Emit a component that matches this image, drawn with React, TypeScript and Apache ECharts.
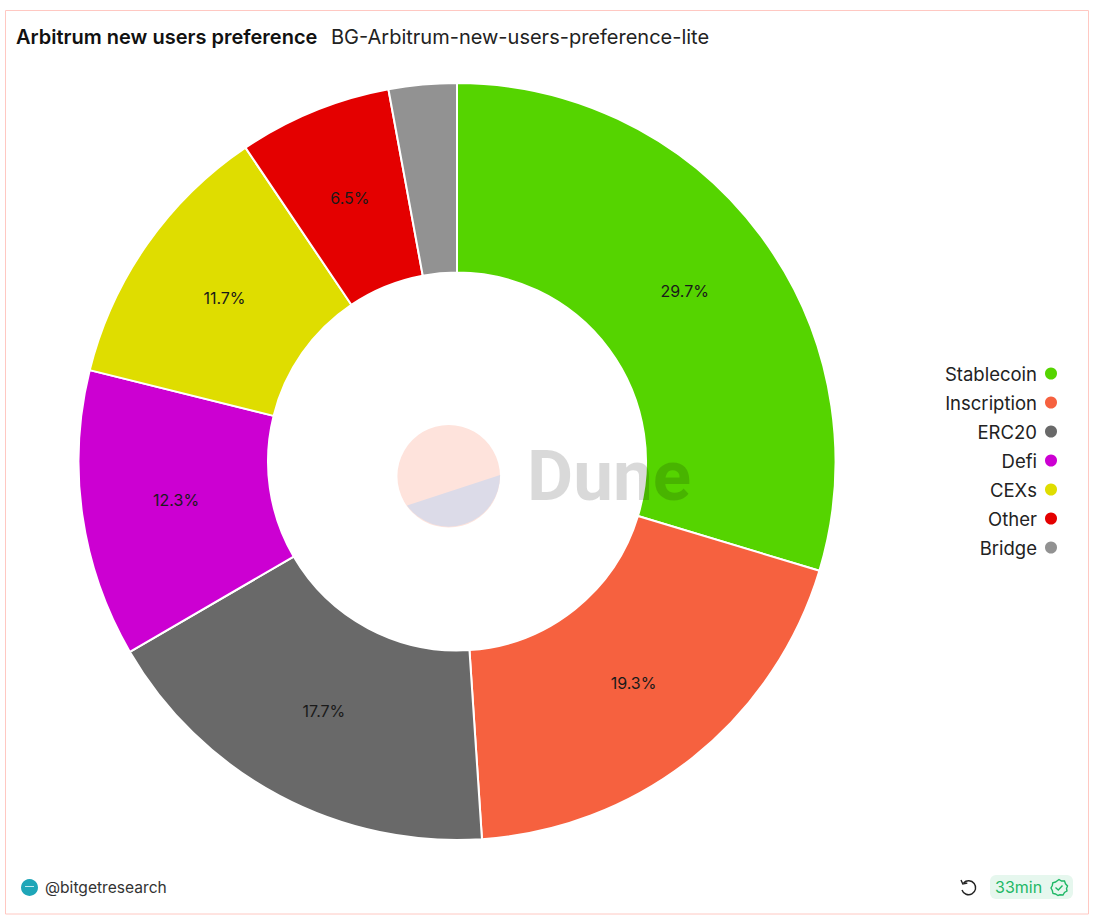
import React, { useEffect, useRef } from "react";
import * as echarts from "echarts";

const categories = ["Stablecoin", "Inscription", "ERC20", "Defi", "CEXs", "Other", "Bridge"];
const shares = [29.66, 19.29, 17.66, 12.27, 11.68, 6.54, 2.9];
const colors = ["#55d400", "#f6613f", "#696969", "#cc00d2", "#dfdd00", "#e40000", "#929292"];
const hiddenLabels = ["Bridge"];
const chartTitle = "Arbitrum new users preference";
const queryName = "BG-Arbitrum-new-users-preference-lite";
const author = "@bitgetresearch";
const freshness = "33min";

const FONT = "Inter, 'Noto Sans', sans-serif";
const CX = 457;
const CY = 461.5;

echarts.graphic.registerShape("duneChord", echarts.graphic.extendPath("M500.1 475 A51.5 51.5 0 0 1 407 505.5 Z", {}));
echarts.graphic.registerShape("refreshIcon", echarts.graphic.extendPath("M963.5 883 A7 7 0 1 1 962 890 M961 880 L962.8 884 L967.3 883", {}));
echarts.graphic.registerShape("badgeIcon", echarts.graphic.extendPath("M1059 879.5 L1061.5 881 L1064.5 881 L1065.5 883.8 L1067.5 886 L1066.5 888.5 L1067 891 L1064.5 892.5 L1063 895 L1060 894.8 L1058 895.5 L1055.5 894 L1053 893.5 L1052.3 890.5 L1051 888 L1052.3 885.5 L1052.8 882.8 L1055.5 882 Z M1055.5 887.5 L1058.3 890 L1062.5 885.5", {}));

export default function App() {
  const ref = useRef<HTMLDivElement>(null);
  useEffect(() => {
    const chart = echarts.init(ref.current!, null, { renderer: "svg" });
    chart.setOption({
      animation: false,
      backgroundColor: "#ffffff",
      color: colors,
      title: [
        { text: chartTitle, left: 11, top: 22, textStyle: { fontFamily: FONT, fontSize: 20, fontWeight: 600, color: "#111111" } },
        { text: queryName, left: 326, top: 22, textStyle: { fontFamily: FONT, fontSize: 20, fontWeight: 400, color: "#222222" } },
      ],
      legend: {
        orient: "vertical",
        right: 32,
        top: 359,
        align: "right",
        icon: "circle",
        itemWidth: 14,
        itemHeight: 14,
        itemGap: 10,
        data: categories,
        textStyle: { fontFamily: FONT, fontSize: 18.5, color: "#222222", padding: [0, 2, 0, 0] },
      },
      series: [
        {
          type: "pie",
          center: [CX, CY],
          radius: [189, 378.5],
          startAngle: 90,
          clockwise: true,
          silent: true,
          itemStyle: { borderColor: "#ffffff", borderWidth: 2 },
          label: {
            show: true,
            position: "inside",
            fontFamily: FONT,
            fontSize: 16,
            color: "#1a1a1a",
            formatter: (p: any) => `${p.value.toFixed(1)}%`,
          },
          labelLayout: (p: any) => {
            const x = p.rect.x + p.rect.width / 2 - CX;
            const y = p.rect.y + p.rect.height / 2 - CY;
            const d = Math.hypot(x, y) || 1;
            return { dx: (-3 * x) / d, dy: (-3 * y) / d - 1 };
          },
          labelLine: { show: false },
          data: categories.map((name, i) => ({
            name,
            value: shares[i],
            label: { show: !hiddenLabels.includes(name) },
          })),
        },
      ],
      graphic: [
        { type: "rect", z: 1, silent: true, shape: { x: 5.5, y: 10.5, width: 1083, height: 903.5 }, style: { fill: "none", stroke: "#ffc8c2", lineWidth: 1 } },
        { type: "circle", z: 100, silent: true, shape: { cx: 448.7, cy: 476.3, r: 51.3 }, style: { fill: "#fee3dc" } },
        { type: "duneChord", z: 101, silent: true, style: { fill: "#dcdbe8" } },
        { type: "text", z: 102, silent: true, x: 527, y: 440, style: { text: "Dune", fontFamily: "Roboto, sans-serif", fontWeight: 700, fontSize: 71, fill: "rgba(0,0,0,0.15)" } },
        { type: "circle", z: 10, silent: true, shape: { cx: 29.5, cy: 887.5, r: 8.5 }, style: { fill: "#1fa6b8" } },
        { type: "line", z: 11, silent: true, shape: { x1: 25, y1: 886.5, x2: 34, y2: 886.5 }, style: { stroke: "#bfeaf0", lineWidth: 1 } },
        { type: "text", z: 10, silent: true, x: 45, y: 879, style: { text: author, fontFamily: FONT, fontSize: 15.6, fill: "#333333" } },
        { type: "refreshIcon", z: 10, silent: true, style: { fill: "none", stroke: "#222222", lineWidth: 1.4 } },
        { type: "rect", z: 10, silent: true, shape: { x: 990, y: 875, width: 83, height: 24, r: 6 }, style: { fill: "#e6f7ee" } },
        { type: "text", z: 11, silent: true, x: 995, y: 879, style: { text: freshness, fontFamily: FONT, fontSize: 16, fill: "#1fb866" } },
        { type: "badgeIcon", z: 11, silent: true, style: { fill: "none", stroke: "#1fb866", lineWidth: 1.4 } },
      ],
    });
    return () => chart.dispose();
  }, []);
  return (
    <div
      ref={ref}
      style={{ position: "fixed", left: 0, top: 0, width: 1096, height: 922, background: "#fff" }}
    />
  );
}
